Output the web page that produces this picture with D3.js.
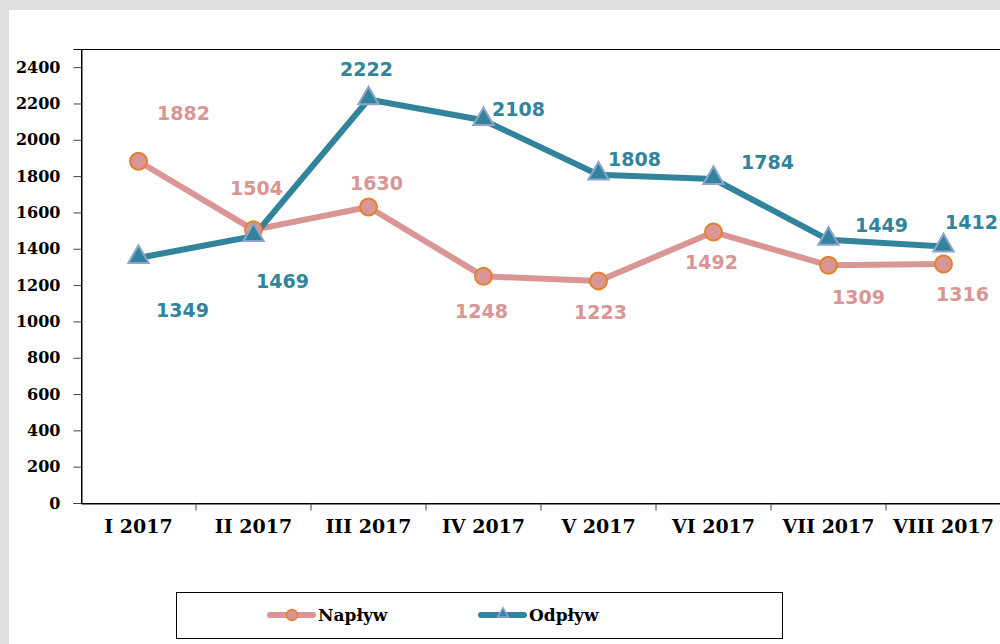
<!DOCTYPE html>
<html>
<head>
<meta charset="utf-8">
<script src="https://cdn.jsdelivr.net/npm/d3@7"></script>
<style>
  body { margin: 0; background: #e0e0e0; }
  svg { display: block; }
</style>
</head>
<body>
<div id="chart"></div>
<script>
// chart data
var months = ["I 2017", "II 2017", "III 2017", "IV 2017", "V 2017", "VI 2017", "VII 2017", "VIII 2017"];
var naplyw = [1882, 1504, 1630, 1248, 1223, 1492, 1309, 1316];
var odplyw = [1349, 1469, 2222, 2108, 1808, 1784, 1449, 1412];
var yTicks = [0, 200, 400, 600, 800, 1000, 1200, 1400, 1600, 1800, 2000, 2200, 2400];

// label offsets from the point (dx, dy) - hand placed like in the original
var naplywLabelOff = [[45, -48], [3, -42], [8, -24], [-2, 35], [2, 31], [-2, 30], [30, 32], [19, 30]];
var odplywLabelOff = [[44, 52], [29, 45], [-2, -30], [35, -11], [36, -16], [54, -17], [53, -15], [28, -25]];

var W = 1000, H = 644;
var plotLeft = 81, plotRight = 1001, plotTop = 49, plotBottom = 503;

var svg = d3.select("#chart").append("svg")
    .attr("width", W)
    .attr("height", H);

// white chart background
svg.append("rect")
    .attr("x", 9).attr("y", 10)
    .attr("width", W).attr("height", H)
    .attr("fill", "#ffffff");

var xScale = d3.scaleBand()
    .domain(months)
    .range([plotLeft, plotRight]);

var yScale = d3.scaleLinear()
    .domain([0, 2500])
    .range([plotBottom, plotTop]);

// frame
svg.append("rect")
    .attr("x", plotLeft + 0.5).attr("y", plotTop + 0.5)
    .attr("width", plotRight - plotLeft).attr("height", plotBottom - plotTop)
    .attr("fill", "none")
    .attr("stroke", "#000")
    .attr("stroke-width", 1);

var y_axis = d3.axisLeft(yScale)
    .tickValues(yTicks)
    .tickFormat(d3.format("d"))
    .tickSize(8)
    .tickPadding(13);

var gy = svg.append("g")
    .attr("transform", "translate(" + (plotLeft + 0.5) + ",0)")
    .call(y_axis);
gy.select(".domain").attr("stroke", "#000");
gy.selectAll(".tick line").attr("stroke", "#444");
gy.selectAll("text")
    .attr("font-family", "'DejaVu Serif', serif")
    .attr("font-weight", "bold")
    .attr("font-size", "16px")
    .attr("fill", "#000");

var x_axis = d3.axisBottom(xScale)
    .tickSize(0)
    .tickPadding(16);

var gx = svg.append("g")
    .attr("transform", "translate(0," + (plotBottom + 0.5) + ")")
    .call(x_axis);
gx.select(".domain").attr("stroke", "#000");
gx.selectAll("text")
    .attr("font-family", "'DejaVu Serif', serif")
    .attr("font-weight", "bold")
    .attr("font-size", "19px")
    .attr("fill", "#000");

// tick marks between categories
gx.selectAll(".sep")
    .data(months.slice(1))
    .enter()
    .append("line")
    .attr("x1", function(d) { return xScale(d); })
    .attr("x2", function(d) { return xScale(d); })
    .attr("y1", 0)
    .attr("y2", 7)
    .attr("stroke", "#444");

function cx(i) { return xScale(months[i]) + xScale.bandwidth() / 2; }

var line = d3.line()
    .x(function(d, i) { return cx(i); })
    .y(function(d) { return yScale(d); });

var pink = "#d99694", teal = "#31849b";

svg.append("path")
    .datum(naplyw)
    .attr("d", line)
    .attr("fill", "none")
    .attr("stroke", pink)
    .attr("stroke-width", 6)
    .attr("stroke-linejoin", "round");

svg.append("path")
    .datum(odplyw)
    .attr("d", line)
    .attr("fill", "none")
    .attr("stroke", teal)
    .attr("stroke-width", 6)
    .attr("stroke-linejoin", "round");

// markers
svg.selectAll(".circ")
    .data(naplyw)
    .enter()
    .append("circle")
    .attr("cx", function(d, i) { return cx(i); })
    .attr("cy", function(d) { return yScale(d); })
    .attr("r", 8.5)
    .attr("fill", pink)
    .attr("stroke", "#e2822c")
    .attr("stroke-width", 2);

var tri = d3.symbol().type(d3.symbolTriangle).size(180);

svg.selectAll(".tri")
    .data(odplyw)
    .enter()
    .append("path")
    .attr("d", tri)
    .attr("transform", function(d, i) { return "translate(" + cx(i) + "," + (yScale(d) - 1) + ")"; })
    .attr("fill", teal)
    .attr("stroke", "#8fa3cf")
    .attr("stroke-width", 2);

// data labels
function labels(data, off, color) {
    svg.selectAll(null)
        .data(data)
        .enter()
        .append("text")
        .attr("x", function(d, i) { return cx(i) + off[i][0]; })
        .attr("y", function(d, i) { return yScale(d) + off[i][1]; })
        .attr("text-anchor", "middle")
        .attr("dominant-baseline", "central")
        .attr("font-family", "'DejaVu Sans', sans-serif")
        .attr("font-weight", "bold")
        .attr("font-size", "19px")
        .attr("fill", color)
        .text(function(d) { return d; });
}
labels(naplyw, naplywLabelOff, pink);
labels(odplyw, odplywLabelOff, teal);

// legend
var lg = svg.append("g");
lg.append("rect")
    .attr("x", 176.5).attr("y", 592.5)
    .attr("width", 606).attr("height", 46)
    .attr("fill", "#fff")
    .attr("stroke", "#000")
    .attr("stroke-width", 1);

var legendItems = [
    { name: "Napływ", color: pink, x: 267, shape: "circle" },
    { name: "Odpływ", color: teal, x: 478, shape: "triangle" }
];
legendItems.forEach(function(item) {
    lg.append("line")
        .attr("x1", item.x + 3).attr("x2", item.x + 46)
        .attr("y1", 615).attr("y2", 615)
        .attr("stroke", item.color)
        .attr("stroke-width", 6)
        .attr("stroke-linecap", "round");
    if (item.shape === "circle") {
        lg.append("circle")
            .attr("cx", item.x + 25).attr("cy", 615).attr("r", 5.5)
            .attr("fill", pink).attr("stroke", "#e2822c").attr("stroke-width", 1.5);
    } else {
        lg.append("path")
            .attr("d", d3.symbol().type(d3.symbolTriangle).size(50))
            .attr("transform", "translate(" + (item.x + 25) + ",614)")
            .attr("fill", teal).attr("stroke", "#8fa3cf").attr("stroke-width", 1.5);
    }
    lg.append("text")
        .attr("x", item.x + 51)
        .attr("y", 615)
        .attr("dominant-baseline", "central")
        .attr("font-family", "'DejaVu Serif', serif")
        .attr("font-weight", "bold")
        .attr("font-size", "17px")
        .attr("fill", "#000")
        .text(item.name);
});
</script>
</body>
</html>
